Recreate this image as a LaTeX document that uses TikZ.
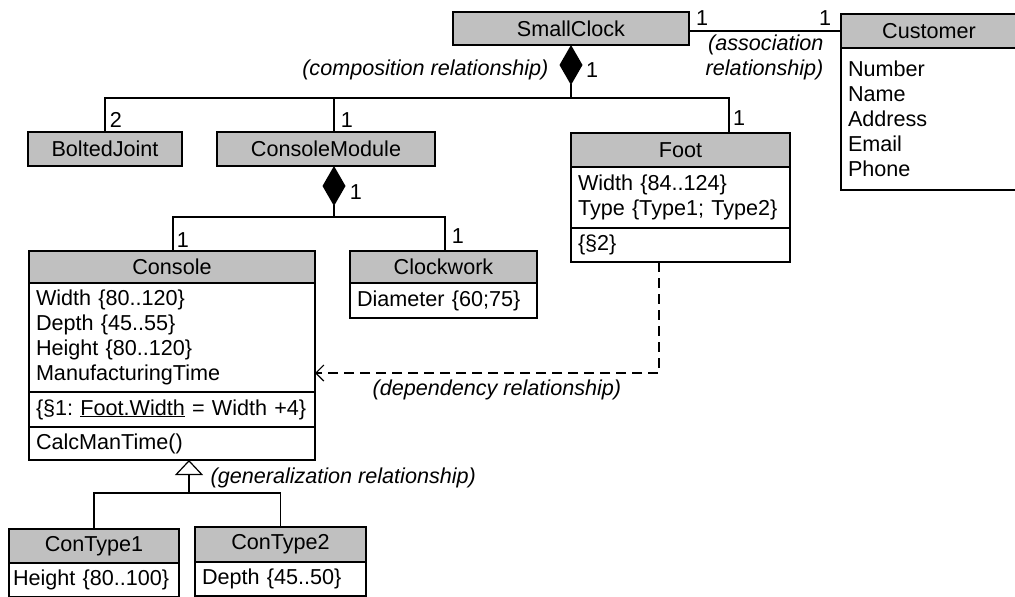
\documentclass[tikz,border=0pt]{standalone}
\usepackage{fontspec}
\setmainfont{Liberation Sans}
\usetikzlibrary{arrows.meta, positioning}

\definecolor{headgray}{RGB}{192,192,192}
\newcommand{\diagfont}{\fontsize{21.6}{25}\selectfont\frenchspacing}

\tikzset{
  cls/.style={draw, fill=headgray, anchor=north west, inner sep=0pt, outer sep=0pt, minimum height=34},
  cmp/.style={draw, anchor=north west, align=left, inner xsep=7pt, inner ysep=0pt, outer sep=0pt},
  mult/.style={inner sep=0pt},
  rel/.style={inner sep=0pt, font=\diagfont\itshape},
  composition/.style={-{Diamond[length=40pt, width=23pt]}},
  generalization/.style={-{Triangle[open, length=15pt, width=28pt]}},
  dependency/.style={dash pattern=on 10pt off 6pt, -{Straight Barb[length=8pt, width=16pt]}}
}

\begin{document}
\begin{tikzpicture}[x=1pt, y=-1pt, line width=1.2pt, every node/.style={font=\diagfont}]
\useasboundingbox (0,0) rectangle (1015,597);

\node[cls, minimum width=236, minimum height=33] (sc) at (453,12) {SmallClock};
\node[cls, minimum width=176] (cu) at (841,14) {Customer};
\node[cmp, text width=162, minimum height=142] (cuattr) at (cu.south west) {Number\\Name\\Address\\Email\\Phone};
\node[cls, minimum width=154] (bj) at (28,132) {BoltedJoint};
\node[cls, minimum width=218] (cm) at (217,132) {ConsoleModule};
\node[cls, minimum width=219] (ft) at (571,133) {Foot};
\node[cmp, text width=205, minimum height=61] (ftattr) at (ft.south west) {Width \{84..124\}\\Type \{Type1; Type2\}};
\node[cmp, text width=205, minimum height=34] (ftcon) at (ftattr.south west) {\{§2\}};
\node[cls, minimum width=286, minimum height=32] (co) at (29,251) {Console};
\node[cmp, text width=272, minimum height=109] (coattr) at (co.south west) {Width \{80..120\}\\Depth \{45..55\}\\Height \{80..120\}\\ManufacturingTime};
\node[cmp, text width=272, minimum height=35] (cocon) at (coattr.south west) {\{§1: \underline{Foot.Width} = Width +4\}};
\node[cmp, text width=272, minimum height=33] (coop) at (cocon.south west) {CalcManTime()};
\node[cls, minimum width=187, minimum height=32] (cw) at (350,251) {Clockwork};
\node[cmp, text width=173, minimum height=35] (cwattr) at (cw.south west) {Diameter \{60;75\}};
\node[cls, minimum width=170] (ct1) at (9,529) {ConType1};
\node[cmp, inner xsep=4pt, text width=162, minimum height=34] (ct1attr) at (ct1.south west) {Height \{80..100\}};
\node[cls, minimum width=171, minimum height=35] (ct2) at (195,527) {ConType2};
\node[cmp, text width=157, minimum height=34] (ct2attr) at (ct2.south west) {Depth \{45..50\}};

\coordinate (j1) at (571,98);
\coordinate (b3) at (729,98);
\coordinate (j2) at (334,217);
\coordinate (c1) at (173,217);
\coordinate (c2) at (445,217);
\coordinate (g0) at (189,493);
\coordinate (d0) at (659,373);

\draw (cu.west -| sc.east) -- (cu.west);
\draw[composition] (j1) -- (sc.south);
\draw (bj.north) |- (b3) -- (b3 |- ft.north);
\draw (j2 |- j1) -- (j2 |- cm.north);
\draw[composition] (j2) -- (j2 |- cm.south);
\draw (c1 |- co.north) |- (c2) -- (c2 |- cw.north);
\draw[generalization] (g0) -- (g0 |- coop.south);
\draw (ct1.north) |- (g0) -| (ct2.north);
\draw[dependency] (d0 |- ftcon.south) |- (coattr.east |- d0);

\node[mult] (m1) at (702,18) {1};
\node[mult] (m2) at (825,18) {1};
\node[mult] (m3) at (592,70) {1};
\node[mult] (m4) at (116,120) {2};
\node[mult] (m5) at (347,120) {1};
\node[mult] (m6) at (739,118) {1};
\node[mult] (m7) at (356,192) {1};
\node[mult] (m8) at (183,240) {1};
\node[mult] (m9) at (458,236) {1};

\node[rel, anchor=east] (rcomp) at (549,70) {(composition relationship)};
\node[rel, anchor=east, align=right] (rassoc) at (824,57) {(association\\relationship)};
\node[rel, anchor=west] (rdep) at (372,390) {(dependency relationship)};
\node[rel, anchor=west] (rgen) at (210,478) {(generalization relationship)};

\end{tikzpicture}
\end{document}
